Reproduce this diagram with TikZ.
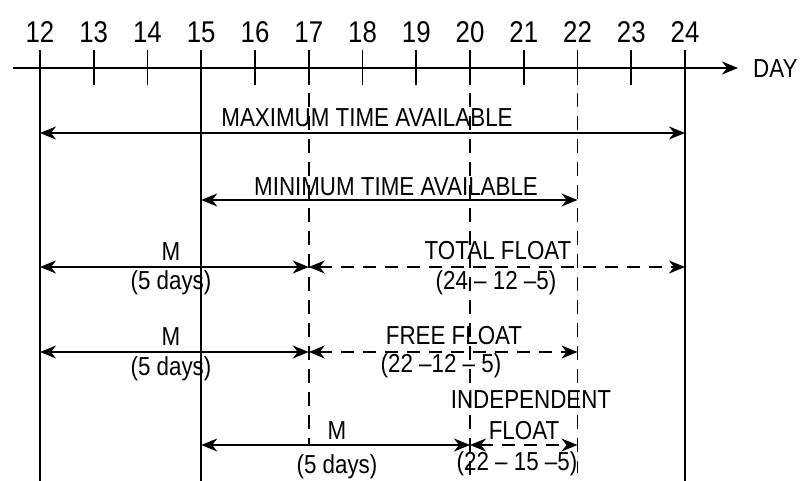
\documentclass[tikz,border=0pt]{standalone}
\usepackage{fontspec}
\setmainfont[FakeStretch=0.86]{Liberation Sans}
\usetikzlibrary{arrows.meta}
\begin{document}
\begin{tikzpicture}[x=1pt,y=-1pt,
  ln/.style={line width=1.6pt},
  dsh/.style={line width=1.6pt, dash pattern=on 14pt off 9pt},
  tip/.tip={Stealth[length=16pt,width=13pt,inset=5pt]},
  dim/.style={line width=1.6pt, tip-tip},
  num/.style={font=\fontsize{30}{32}\selectfont, inner sep=0pt},
  lbl/.style={font=\fontsize{26}{29}\selectfont, inner sep=0pt},
]
\useasboundingbox (0,0) rectangle (810,481);
% grid coordinates
\foreach \r/\yy in {top/50, tk/85, r1/133, r2/200, r3/267, r4/352, r5/445, bot/481, bot22/473}{
  \foreach \d in {12,...,24}{
    \coordinate (\r-\d) at ({40+(\d-12)*53.75}, \yy);
  }
}
% axis
\coordinate (axL) at (13,68);
\coordinate (axR) at (738,68);
\draw[ln, -tip] (axL) -- (axR);
\node[lbl, anchor=west] (day) at (753,69) {DAY};
% tick numbers and ticks
\foreach \d in {12,...,24}{
  \node[num] (n\d) at ({40+(\d-12)*53.75}, 32) {\d};
  \draw[ln] (top-\d) -- (tk-\d);
}
% solid verticals
\draw[ln] (top-12) -- (bot-12);
\draw[ln] (top-15) -- (bot-15);
\draw[ln] (top-24) -- (bot-24);
% dashed verticals
\draw[dsh] (tk-17) ++(0,8) -- (r5-17);
\draw[dsh] (tk-20) ++(0,8) -- (bot-20);
\draw[dsh] (tk-22) ++(0,8) -- (bot22-22);
% row 1
\draw[dim] (r1-12) -- (r1-24);
\node[lbl] (maxl) at (367,118) {MAXIMUM TIME AVAILABLE};
% row 2
\draw[dim] (r2-15) -- (r2-22);
\node[lbl] (minl) at (396,187) {MINIMUM TIME AVAILABLE};
% row 3
\draw[dim] (r3-12) -- (r3-17);
\draw[dim, dash pattern=on 13pt off 9pt] (r3-17) -- (r3-24);
\node[lbl] (m3) at (171,252) {M};
\node[lbl] (d3) at (171,283) {(5 days)};
\node[lbl] (tf) at (498,251) {TOTAL FLOAT};
\node[lbl] (tfv) at (496,283) {(24 – 12 –5)};
% row 4
\draw[dim] (r4-12) -- (r4-17);
\draw[dim, dash pattern=on 13pt off 9pt] (r4-17) -- (r4-22);
\node[lbl] (m4) at (171,337) {M};
\node[lbl] (d4) at (171,369) {(5 days)};
\node[lbl] (ff) at (454,336) {FREE FLOAT};
\node[lbl] (ffv) at (441,366) {(22 –12 – 5)};
% row 5
\draw[dim] (r5-15) -- (r5-20);
\draw[dim, dash pattern=on 13pt off 9pt] (r5-20) -- (r5-22);
\node[lbl] (m5) at (337,431) {M};
\node[lbl] (d5) at (337,467) {(5 days)};
\node[lbl] (ifa) at (531,400) {INDEPENDENT};
\node[lbl] (ifb) at (524,431) {FLOAT};
\node[lbl] (ifv) at (517,464) {(22 – 15 –5)};
\end{tikzpicture}
\end{document}
